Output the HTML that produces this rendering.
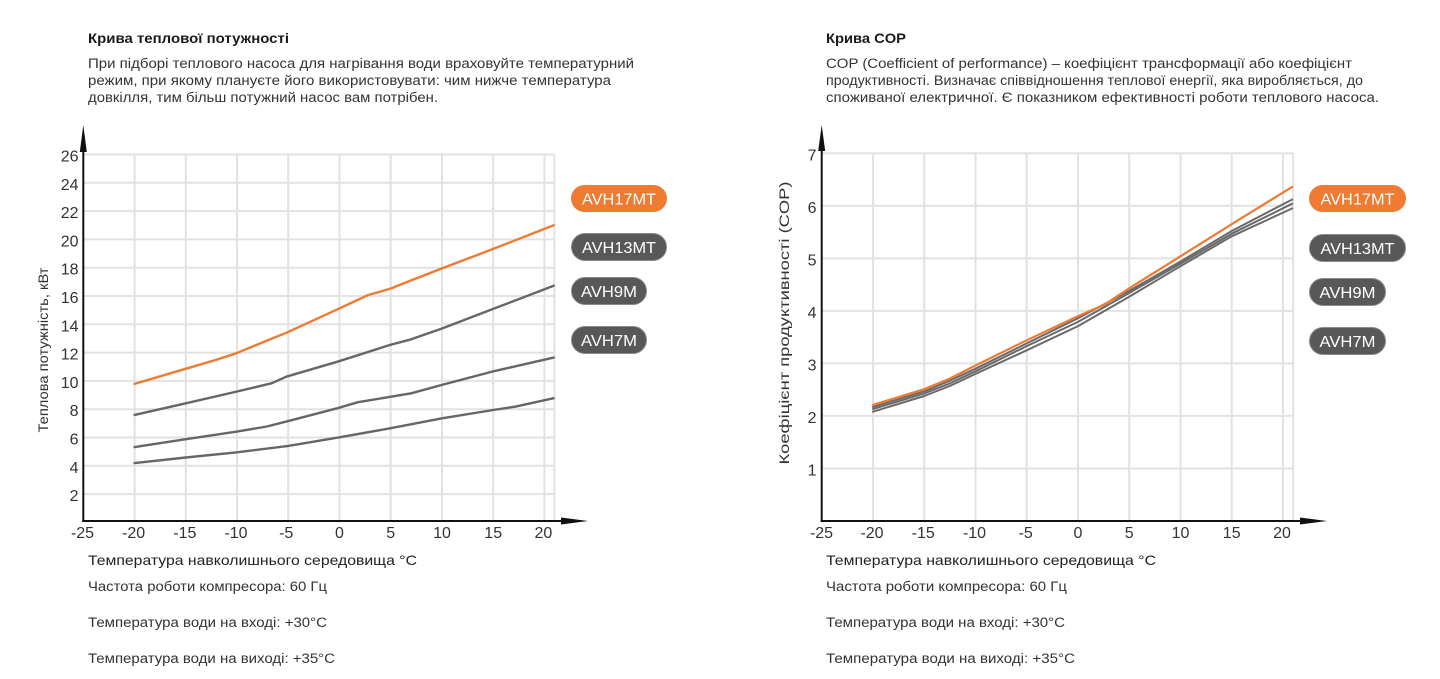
<!DOCTYPE html>
<html>
<head>
<meta charset="utf-8">
<style>
html,body{margin:0;padding:0;background:#fff;}
svg{display:block;}
text{font-family:"Liberation Sans","DejaVu Sans",sans-serif;}
</style>
</head>
<body>
<svg width="1440" height="679" viewBox="0 0 1440 679" xmlns="http://www.w3.org/2000/svg">
<rect x="0" y="0" width="1440" height="679" fill="#fff"/>

<!-- ================= LEFT TEXT ================= -->
<text x="88" y="43" font-size="14" font-weight="bold" fill="#1a1a1a" textLength="201" lengthAdjust="spacingAndGlyphs">Крива теплової потужності</text>
<g font-size="13.5" fill="#333">
<text x="88" y="68" textLength="546" lengthAdjust="spacingAndGlyphs">При підборі теплового насоса для нагрівання води враховуйте температурний</text>
<text x="88" y="85" textLength="523" lengthAdjust="spacingAndGlyphs">режим, при якому плануєте його використовувати: чим нижче температура</text>
<text x="88" y="102" textLength="350" lengthAdjust="spacingAndGlyphs">довкілля, тим більш потужний насос вам потрібен.</text>
</g>

<!-- ================= RIGHT TEXT ================= -->
<text x="826" y="43" font-size="14" font-weight="bold" fill="#1a1a1a" textLength="80" lengthAdjust="spacingAndGlyphs">Крива COP</text>
<g font-size="13.5" fill="#333">
<text x="826" y="68" textLength="526" lengthAdjust="spacingAndGlyphs">COP (Coefficient of performance) – коефіцієнт трансформації або коефіцієнт</text>
<text x="826" y="85" textLength="537" lengthAdjust="spacingAndGlyphs">продуктивності. Визначає співвідношення теплової енергії, яка виробляється, до</text>
<text x="826" y="102" textLength="553" lengthAdjust="spacingAndGlyphs">споживаної електричної. Є показником ефективності роботи теплового насоса.</text>
</g>

<!-- ================= LEFT CHART ================= -->
<g stroke="#e2e2e2" stroke-width="2" fill="none">
  <!-- horizontal grid: y = 154.5 + (26-v)*14.15 -->
  <line x1="84" y1="154.5" x2="554.5" y2="154.5"/>
  <line x1="84" y1="182.8" x2="554.5" y2="182.8"/>
  <line x1="84" y1="211.1" x2="554.5" y2="211.1"/>
  <line x1="84" y1="239.4" x2="554.5" y2="239.4"/>
  <line x1="84" y1="267.7" x2="554.5" y2="267.7"/>
  <line x1="84" y1="296.0" x2="554.5" y2="296.0"/>
  <line x1="84" y1="324.3" x2="554.5" y2="324.3"/>
  <line x1="84" y1="352.6" x2="554.5" y2="352.6"/>
  <line x1="84" y1="380.9" x2="554.5" y2="380.9"/>
  <line x1="84" y1="409.2" x2="554.5" y2="409.2"/>
  <line x1="84" y1="437.5" x2="554.5" y2="437.5"/>
  <line x1="84" y1="465.8" x2="554.5" y2="465.8"/>
  <line x1="84" y1="494.1" x2="554.5" y2="494.1"/>
  <!-- vertical grid -->
  <line x1="134.6" y1="154.5" x2="134.6" y2="521"/>
  <line x1="185.8" y1="154.5" x2="185.8" y2="521"/>
  <line x1="237.0" y1="154.5" x2="237.0" y2="521"/>
  <line x1="288.2" y1="154.5" x2="288.2" y2="521"/>
  <line x1="339.5" y1="154.5" x2="339.5" y2="521"/>
  <line x1="390.7" y1="154.5" x2="390.7" y2="521"/>
  <line x1="442.0" y1="154.5" x2="442.0" y2="521"/>
  <line x1="493.2" y1="154.5" x2="493.2" y2="521"/>
  <line x1="544.4" y1="154.5" x2="544.4" y2="521"/>
  <line x1="554.4" y1="154.5" x2="554.4" y2="521"/>
</g>

<!-- axes -->
<g stroke="#111" stroke-width="2">
  <line x1="83.3" y1="140" x2="83.3" y2="522"/>
  <line x1="82.3" y1="521" x2="570" y2="521"/>
</g>
<polygon points="83.3,125 79.8,152 86.8,152" fill="#111"/>
<polygon points="588,521 561,517.5 561,524.5" fill="#111"/>

<!-- y tick labels -->
<g font-size="16" fill="#333" text-anchor="end">
  <text x="78.5" y="161.5">26</text>
  <text x="78.5" y="189.8">24</text>
  <text x="78.5" y="218.1">22</text>
  <text x="78.5" y="246.4">20</text>
  <text x="78.5" y="274.7">18</text>
  <text x="78.5" y="303.0">16</text>
  <text x="78.5" y="331.3">14</text>
  <text x="78.5" y="359.6">12</text>
  <text x="78.5" y="387.9">10</text>
  <text x="78.5" y="416.2">8</text>
  <text x="78.5" y="444.5">6</text>
  <text x="78.5" y="472.8">4</text>
  <text x="78.5" y="501.1">2</text>
</g>
<!-- x tick labels -->
<g font-size="16" fill="#333" text-anchor="middle">
  <text x="82.5" y="538">-25</text>
  <text x="133.6" y="538">-20</text>
  <text x="184.8" y="538">-15</text>
  <text x="236.0" y="538">-10</text>
  <text x="286.2" y="538">-5</text>
  <text x="339.5" y="538">0</text>
  <text x="390.7" y="538">5</text>
  <text x="442.0" y="538">10</text>
  <text x="493.2" y="538">15</text>
  <text x="543.4" y="538">20</text>
</g>

<!-- y title -->
<text transform="translate(48,350) rotate(-90)" font-size="14" fill="#333" text-anchor="middle" textLength="165" lengthAdjust="spacingAndGlyphs">Теплова потужність, кВт</text>

<!-- series -->
<g fill="none" stroke-width="2.4" stroke-linejoin="round" stroke-linecap="round">
  <polyline stroke="#666" points="134.6,463.1 185.8,457.5 237.0,452.3 288.2,445.9 339.5,437.3 390.7,428.2 442.0,418.3 493.2,410.0 515.7,406.6 553.7,398.2"/>
  <polyline stroke="#666" points="134.6,447.1 185.8,439.2 237.0,431.6 266.8,426.5 286.3,421.6 337.5,408.2 358.0,402.2 411.2,393.3 442.0,384.9 492.2,371.6 553.7,357.6"/>
  <polyline stroke="#666" points="134.6,414.9 185.8,403.3 237.0,391.5 271.9,383.2 286.3,376.7 337.5,361.7 389.7,345.0 411.2,339.3 442.0,328.5 492.2,309.3 553.7,285.7"/>
  <polyline stroke="#ef7a31" points="134.6,383.9 183.8,369.3 215.6,360.0 236.1,353.3 268.8,339.9 286.3,332.8 337.5,309.3 368.2,295.0 389.7,288.9 411.2,280.4 442.0,268.4 492.2,249.3 553.7,225.3"/>
</g>

<!-- legend pills left -->
<g font-size="16" fill="#fff" text-anchor="middle">
  <rect x="571" y="185" width="96" height="27" rx="13.5" fill="#ef7a31"/>
  <text x="619" y="204.5" textLength="74" lengthAdjust="spacingAndGlyphs">AVH17MT</text>
  <rect x="571.5" y="233.5" width="95" height="27" rx="13.5" fill="#585858" stroke="#8a8a8a" stroke-width="1"/>
  <text x="619" y="253" textLength="74" lengthAdjust="spacingAndGlyphs">AVH13MT</text>
  <rect x="571.5" y="277.5" width="75" height="27" rx="13.5" fill="#585858" stroke="#8a8a8a" stroke-width="1"/>
  <text x="609" y="297" textLength="56" lengthAdjust="spacingAndGlyphs">AVH9M</text>
  <rect x="571.5" y="326.5" width="75" height="27" rx="13.5" fill="#585858" stroke="#8a8a8a" stroke-width="1"/>
  <text x="609" y="346" textLength="56" lengthAdjust="spacingAndGlyphs">AVH7M</text>
</g>

<!-- bottom left text -->
<text x="88" y="565" font-size="14" fill="#222" textLength="329" lengthAdjust="spacingAndGlyphs">Температура навколишнього середовища °C</text>
<g font-size="13.5" fill="#333">
  <text x="88" y="591" textLength="239" lengthAdjust="spacingAndGlyphs">Частота роботи компресора: 60 Гц</text>
  <text x="88" y="627" textLength="239" lengthAdjust="spacingAndGlyphs">Температура води на вході: +30°C</text>
  <text x="88" y="663" textLength="247" lengthAdjust="spacingAndGlyphs">Температура води на виході: +35°C</text>
</g>

<!-- ================= RIGHT CHART ================= -->
<g stroke="#e2e2e2" stroke-width="2" fill="none">
  <!-- horizontal: y = 521 - 52.53 v -->
  <line x1="822" y1="153.3" x2="1293.5" y2="153.3"/>
  <line x1="822" y1="205.8" x2="1293.5" y2="205.8"/>
  <line x1="822" y1="258.4" x2="1293.5" y2="258.4"/>
  <line x1="822" y1="310.9" x2="1293.5" y2="310.9"/>
  <line x1="822" y1="363.4" x2="1293.5" y2="363.4"/>
  <line x1="822" y1="415.9" x2="1293.5" y2="415.9"/>
  <line x1="822" y1="468.5" x2="1293.5" y2="468.5"/>
  <!-- vertical -->
  <line x1="873.0" y1="153.3" x2="873.0" y2="521"/>
  <line x1="924.2" y1="153.3" x2="924.2" y2="521"/>
  <line x1="975.5" y1="153.3" x2="975.5" y2="521"/>
  <line x1="1026.7" y1="153.3" x2="1026.7" y2="521"/>
  <line x1="1078.0" y1="153.3" x2="1078.0" y2="521"/>
  <line x1="1129.2" y1="153.3" x2="1129.2" y2="521"/>
  <line x1="1180.5" y1="153.3" x2="1180.5" y2="521"/>
  <line x1="1231.7" y1="153.3" x2="1231.7" y2="521"/>
  <line x1="1283.0" y1="153.3" x2="1283.0" y2="521"/>
  <line x1="1293.2" y1="153.3" x2="1293.2" y2="521"/>
</g>

<g stroke="#111" stroke-width="2">
  <line x1="821.7" y1="140" x2="821.7" y2="522"/>
  <line x1="820.7" y1="521" x2="1310" y2="521"/>
</g>
<polygon points="821.7,125 818.2,151 825.2,151" fill="#111"/>
<polygon points="1327,521 1300,517.5 1300,524.5" fill="#111"/>

<g font-size="16" fill="#333" text-anchor="end">
  <text x="816.5" y="160.3">7</text>
  <text x="816.5" y="212.8">6</text>
  <text x="816.5" y="265.4">5</text>
  <text x="816.5" y="317.9">4</text>
  <text x="816.5" y="370.4">3</text>
  <text x="816.5" y="422.9">2</text>
  <text x="816.5" y="475.5">1</text>
</g>
<g font-size="16" fill="#333" text-anchor="middle">
  <text x="821.5" y="538">-25</text>
  <text x="872.0" y="538">-20</text>
  <text x="923.2" y="538">-15</text>
  <text x="974.5" y="538">-10</text>
  <text x="1025.7" y="538">-5</text>
  <text x="1078.0" y="538">0</text>
  <text x="1129.2" y="538">5</text>
  <text x="1180.5" y="538">10</text>
  <text x="1231.7" y="538">15</text>
  <text x="1282.0" y="538">20</text>
</g>

<text transform="translate(789,323) rotate(-90)" font-size="14" fill="#333" text-anchor="middle" textLength="283" lengthAdjust="spacingAndGlyphs">Коефіцієнт продуктивності (COP)</text>

<g fill="none" stroke-width="2" stroke-linejoin="round" stroke-linecap="round">
  <polyline stroke="#6a6a6a" points="873.0,411.7 924.2,396.0 949.8,386.0 975.5,373.9 1026.7,350.3 1078.0,326.1 1129.2,296.7 1180.5,266.2 1231.7,236.3 1292.2,208.4"/>
  <polyline stroke="#6a6a6a" points="873.0,409.1 924.2,393.4 949.8,383.4 975.5,371.3 1026.7,346.1 1078.0,321.9 1129.2,293.0 1180.5,263.6 1231.7,233.7 1292.2,203.7"/>
  <polyline stroke="#6a6a6a" points="873.0,407.0 924.2,391.3 949.8,380.7 975.5,368.7 1026.7,343.4 1078.0,318.2 1129.2,290.9 1180.5,261.5 1231.7,231.0 1292.2,199.5"/>
  <polyline stroke="#ef7a31" stroke-width="2.2" points="873.0,404.9 924.2,389.2 949.8,378.6 975.5,365.5 1026.7,340.3 1078.0,316.1 1104.6,304.6 1129.2,288.3 1180.5,256.3 1231.7,224.2 1292.2,186.9"/>
</g>

<g font-size="16" fill="#fff" text-anchor="middle">
  <rect x="1309" y="185" width="97" height="27" rx="13.5" fill="#ef7a31"/>
  <text x="1357.5" y="204.5" textLength="74" lengthAdjust="spacingAndGlyphs">AVH17MT</text>
  <rect x="1309.5" y="234.5" width="96" height="27" rx="13.5" fill="#585858" stroke="#8a8a8a" stroke-width="1"/>
  <text x="1357.5" y="254" textLength="74" lengthAdjust="spacingAndGlyphs">AVH13MT</text>
  <rect x="1309.5" y="278.5" width="76" height="27" rx="13.5" fill="#585858" stroke="#8a8a8a" stroke-width="1"/>
  <text x="1347.5" y="298" textLength="56" lengthAdjust="spacingAndGlyphs">AVH9M</text>
  <rect x="1309.5" y="327.5" width="76" height="27" rx="13.5" fill="#585858" stroke="#8a8a8a" stroke-width="1"/>
  <text x="1347.5" y="347" textLength="56" lengthAdjust="spacingAndGlyphs">AVH7M</text>
</g>

<text x="826" y="565" font-size="14" fill="#222" textLength="330" lengthAdjust="spacingAndGlyphs">Температура навколишнього середовища °C</text>
<g font-size="13.5" fill="#333">
  <text x="826" y="591" textLength="241" lengthAdjust="spacingAndGlyphs">Частота роботи компресора: 60 Гц</text>
  <text x="826" y="627" textLength="239" lengthAdjust="spacingAndGlyphs">Температура води на вході: +30°C</text>
  <text x="826" y="663" textLength="249" lengthAdjust="spacingAndGlyphs">Температура води на виході: +35°C</text>
</g>
</svg>
</body>
</html>
